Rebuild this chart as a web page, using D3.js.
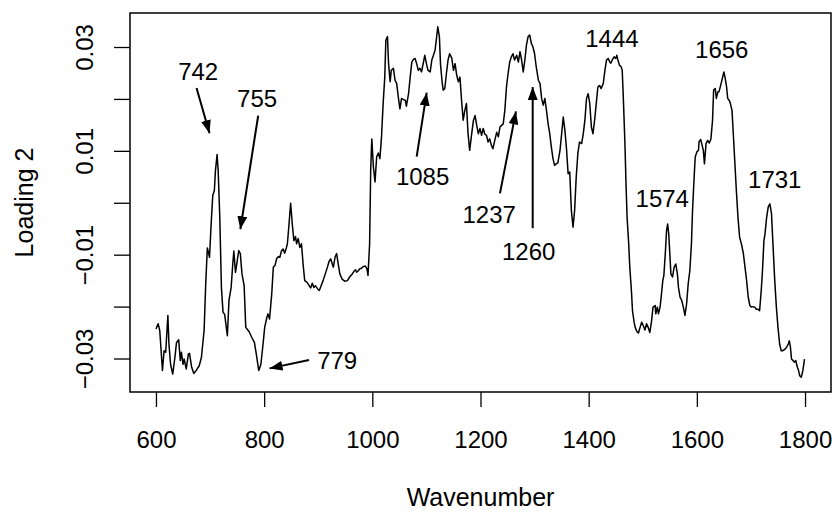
<!DOCTYPE html>
<html>
<head>
<meta charset="utf-8">
<script src="https://cdn.jsdelivr.net/npm/d3@7"></script>
<style>
  body { margin: 0; background: #fff; }
  svg text { font-family: "Liberation Sans", Arial, Helvetica, sans-serif; font-size: 24px; fill: #000; }
</style>
</head>
<body>
<div id="chart"></div>
<script>
// wavenumber (cm-1) and loading 2
const wavenumber = [600, 604, 607, 612, 615, 618, 622, 624, 627, 631, 635, 638, 642, 645, 647, 650, 652, 656, 660, 662, 666, 670, 675, 680, 684, 689, 692, 695, 699, 702, 705, 708, 710, 713, 715, 718, 721, 724, 727, 732, 735, 739, 742, 744, 747, 750, 753, 756, 759, 763, 766, 769, 772, 777, 782, 786, 790, 794, 798, 801, 805, 807, 810, 814, 817, 820, 823, 826, 829, 832, 835, 838, 841, 843, 846, 849, 852, 855, 858, 860, 863, 866, 869, 872, 875, 879, 883, 886, 889, 892, 895, 899, 902, 905, 909, 913, 917, 920, 923, 926, 928, 931, 934, 937, 940, 944, 949, 954, 958, 963, 966, 969, 971, 974, 977, 980, 983, 987, 990, 992, 995, 997, 999, 1002, 1005, 1008, 1011, 1014, 1017, 1020, 1023, 1025, 1028, 1030, 1033, 1035, 1039, 1042, 1045, 1048, 1051, 1054, 1057, 1061, 1063, 1067, 1070, 1073, 1076, 1079, 1082, 1085, 1088, 1091, 1094, 1097, 1100, 1103, 1107, 1110, 1113, 1116, 1119, 1121, 1124, 1126, 1129, 1131, 1134, 1137, 1140, 1143, 1147, 1150, 1153, 1156, 1159, 1162, 1165, 1168, 1171, 1174, 1177, 1180, 1183, 1187, 1190, 1193, 1196, 1199, 1202, 1205, 1208, 1211, 1214, 1217, 1220, 1223, 1227, 1230, 1233, 1236, 1239, 1242, 1245, 1248, 1251, 1254, 1257, 1260, 1263, 1267, 1270, 1273, 1276, 1279, 1282, 1285, 1288, 1291, 1294, 1297, 1300, 1303, 1307, 1310, 1313, 1316, 1319, 1322, 1325, 1328, 1331, 1334, 1337, 1340, 1343, 1347, 1350, 1353, 1356, 1359, 1362, 1365, 1368, 1371, 1374, 1377, 1380, 1383, 1387, 1390, 1393, 1396, 1399, 1402, 1405, 1408, 1411, 1414, 1417, 1420, 1423, 1427, 1430, 1433, 1436, 1439, 1441, 1444, 1447, 1450, 1452, 1454, 1457, 1460, 1462, 1464, 1467, 1469, 1471, 1474, 1476, 1479, 1481, 1484, 1486, 1489, 1492, 1495, 1498, 1501, 1504, 1507, 1510, 1513, 1516, 1519, 1523, 1524, 1527, 1529, 1532, 1534, 1537, 1539, 1542, 1544, 1546, 1548, 1550, 1552, 1555, 1558, 1561, 1564, 1566, 1569, 1572, 1575, 1578, 1581, 1584, 1587, 1590, 1592, 1595, 1597, 1600, 1603, 1604, 1607, 1609, 1612, 1614, 1617, 1620, 1623, 1626, 1629, 1631, 1634, 1636, 1639, 1641, 1644, 1647, 1650, 1652, 1655, 1657, 1660, 1662, 1665, 1667, 1670, 1673, 1676, 1679, 1683, 1686, 1689, 1692, 1695, 1698, 1701, 1704, 1707, 1710, 1713, 1716, 1719, 1721, 1724, 1726, 1729, 1732, 1735, 1738, 1741, 1744, 1747, 1750, 1753, 1756, 1759, 1763, 1766, 1769, 1771, 1773, 1775, 1778, 1780, 1783, 1785, 1788, 1790, 1793, 1796, 1799]
const loading2 = [-0.0243, -0.0233, -0.0246, -0.0323, -0.0285, -0.0288, -0.0217, -0.0272, -0.0311, -0.0330, -0.0298, -0.0269, -0.0264, -0.0304, -0.0288, -0.0311, -0.0301, -0.0320, -0.0291, -0.0290, -0.0317, -0.0329, -0.0322, -0.0314, -0.0298, -0.0246, -0.0156, -0.0087, -0.0105, -0.0041, 0.0014, 0.0024, 0.0062, 0.0093, 0.0062, -0.0028, -0.0163, -0.0211, -0.0215, -0.0256, -0.0188, -0.0163, -0.0118, -0.0093, -0.0134, -0.0114, -0.0092, -0.0098, -0.0137, -0.0159, -0.0240, -0.0244, -0.0248, -0.0259, -0.0269, -0.0295, -0.0323, -0.0311, -0.0272, -0.0240, -0.0221, -0.0214, -0.0224, -0.0176, -0.0124, -0.0121, -0.0108, -0.0104, -0.0105, -0.0093, -0.0089, -0.0097, -0.0087, -0.0079, -0.0041, -0.0001, -0.0041, -0.0073, -0.0065, -0.0079, -0.0069, -0.0086, -0.0079, -0.0118, -0.0150, -0.0153, -0.0159, -0.0164, -0.0155, -0.0163, -0.0160, -0.0166, -0.0169, -0.0161, -0.0150, -0.0137, -0.0124, -0.0113, -0.0108, -0.0118, -0.0124, -0.0105, -0.0098, -0.0118, -0.0137, -0.0147, -0.0151, -0.0150, -0.0143, -0.0137, -0.0132, -0.0129, -0.0134, -0.0131, -0.0127, -0.0126, -0.0123, -0.0122, -0.0127, -0.0140, -0.0079, 0.0062, 0.0123, 0.0069, 0.0040, 0.0088, 0.0096, 0.0085, 0.0127, 0.0191, 0.0242, 0.0313, 0.0320, 0.0268, 0.0233, 0.0255, 0.0259, 0.0236, 0.0230, 0.0204, 0.0181, 0.0201, 0.0199, 0.0197, 0.0186, 0.0210, 0.0242, 0.0271, 0.0276, 0.0278, 0.0268, 0.0255, 0.0259, 0.0252, 0.0268, 0.0284, 0.0268, 0.0255, 0.0252, 0.0275, 0.0284, 0.0294, 0.0320, 0.0339, 0.0320, 0.0268, 0.0233, 0.0217, 0.0220, 0.0249, 0.0275, 0.0287, 0.0278, 0.0255, 0.0268, 0.0246, 0.0233, 0.0242, 0.0197, 0.0159, 0.0178, 0.0191, 0.0133, 0.0101, 0.0127, 0.0159, 0.0168, 0.0149, 0.0133, 0.0143, 0.0130, 0.0143, 0.0132, 0.0130, 0.0117, 0.0123, 0.0111, 0.0104, 0.0123, 0.0136, 0.0127, 0.0146, 0.0149, 0.0152, 0.0178, 0.0223, 0.0249, 0.0271, 0.0281, 0.0287, 0.0275, 0.0284, 0.0271, 0.0291, 0.0275, 0.0252, 0.0275, 0.0304, 0.0320, 0.0323, 0.0307, 0.0300, 0.0287, 0.0262, 0.0236, 0.0230, 0.0201, 0.0188, 0.0201, 0.0178, 0.0152, 0.0133, 0.0107, 0.0085, 0.0072, 0.0075, 0.0077, 0.0101, 0.0133, 0.0165, 0.0140, 0.0104, 0.0056, 0.0059, -0.0015, -0.0047, -0.0015, 0.0050, 0.0095, 0.0117, 0.0114, 0.0133, 0.0159, 0.0201, 0.0210, 0.0191, 0.0146, 0.0133, 0.0159, 0.0191, 0.0223, 0.0226, 0.0220, 0.0230, 0.0255, 0.0275, 0.0278, 0.0271, 0.0269, 0.0276, 0.0281, 0.0278, 0.0284, 0.0275, 0.0265, 0.0262, 0.0255, 0.0204, 0.0114, 0.0037, -0.0028, -0.0079, -0.0124, -0.0169, -0.0208, -0.0230, -0.0240, -0.0248, -0.0251, -0.0240, -0.0230, -0.0237, -0.0245, -0.0233, -0.0240, -0.0250, -0.0230, -0.0201, -0.0198, -0.0214, -0.0201, -0.0214, -0.0201, -0.0182, -0.0150, -0.0140, -0.0092, -0.0053, -0.0041, -0.0060, -0.0098, -0.0137, -0.0143, -0.0124, -0.0118, -0.0137, -0.0163, -0.0182, -0.0188, -0.0201, -0.0217, -0.0195, -0.0156, -0.0131, -0.0079, -0.0015, 0.0050, 0.0088, 0.0098, 0.0101, 0.0117, 0.0122, 0.0114, 0.0101, 0.0075, 0.0114, 0.0120, 0.0115, 0.0123, 0.0159, 0.0217, 0.0220, 0.0201, 0.0214, 0.0214, 0.0226, 0.0239, 0.0252, 0.0242, 0.0223, 0.0201, 0.0197, 0.0191, 0.0178, 0.0140, 0.0082, 0.0024, -0.0028, -0.0066, -0.0082, -0.0098, -0.0124, -0.0150, -0.0182, -0.0198, -0.0201, -0.0200, -0.0201, -0.0205, -0.0205, -0.0208, -0.0169, -0.0137, -0.0073, -0.0060, -0.0028, -0.0008, -0.0002, -0.0021, -0.0086, -0.0150, -0.0201, -0.0240, -0.0272, -0.0285, -0.0285, -0.0282, -0.0278, -0.0272, -0.0266, -0.0278, -0.0301, -0.0304, -0.0307, -0.0304, -0.0314, -0.0323, -0.0333, -0.0336, -0.0323, -0.0301]

const xTicks = [600, 800, 1000, 1200, 1400, 1600, 1800]
const yTicks = [-0.03, -0.02, -0.01, 0, 0.01, 0.02, 0.03]
const yLabelled = [-0.03, -0.01, 0.01, 0.03]

// peak labels: text anchor (wavenumber, loading) and optional arrow from -> to
const peakLabels = ['742', '755', '779', '1085', '1237', '1260', '1444', '1656', '1574', '1731']
const labelX = [678, 787, 935, 1093, 1216, 1289, 1443, 1646, 1536, 1744]
const labelY = [0.0237, 0.0185, -0.0321, 0.0034, -0.0039, -0.0110, 0.0300, 0.0279, -0.0008, 0.0029]
const arrowFrom = [[675, 0.0221], [789, 0.0168], [883, -0.0303], [1082, 0.0089], [1236, 0.0018], [1296.5, -0.0049], null, null, null, null]
const arrowTo = [[699, 0.0134], [756, -0.0051], [810, -0.0319], [1100.5, 0.0212], [1265.5, 0.0176], [1296.5, 0.0223], null, null, null, null]

const width = 837
const height = 512
const mLeft = 130
const mRight = 831
const mTop = 13
const mBottom = 392

const svg = d3.select('#chart').append('svg')
  .attr('width', width)
  .attr('height', height)

const x = d3.scaleLinear().domain([552, 1848]).range([mLeft, mRight])
const y = d3.scaleLinear().domain([-0.03645, 0.03655]).range([mBottom, mTop])

// arrow head
svg.append('defs').append('marker')
  .attr('id', 'head')
  .attr('markerUnits', 'userSpaceOnUse')
  .attr('viewBox', '0 0 13 10')
  .attr('refX', 13)
  .attr('refY', 5)
  .attr('markerWidth', 13)
  .attr('markerHeight', 10)
  .attr('orient', 'auto')
  .append('path')
  .attr('d', 'M0,0L13,5L0,10Z')
  .attr('fill', '#000')

// x axis
const gx = svg.append('g')
  .attr('transform', `translate(0,${mBottom})`)
  .call(d3.axisBottom(x).tickValues(xTicks).tickSize(15).tickFormat(d3.format('d')))
gx.select('.domain').remove()
gx.selectAll('.tick line').attr('stroke', '#000').attr('stroke-width', 1.3)
gx.selectAll('.tick text').attr('dy', null).attr('y', 56).style('font-size', '24px')

// y axis
const gy = svg.append('g')
  .attr('transform', `translate(${mLeft},0)`)
  .call(d3.axisLeft(y).tickValues(yTicks).tickSize(16)
    .tickFormat(d => yLabelled.some(v => Math.abs(v - d) < 1e-9) ? d3.format('.2f')(d) : ''))
gy.select('.domain').remove()
gy.selectAll('.tick line').attr('stroke', '#000').attr('stroke-width', 1.3)
gy.selectAll('.tick text')
  .attr('x', 0)
  .attr('y', -37)
  .attr('dy', null)
  .attr('transform', 'rotate(-90)')
  .attr('text-anchor', 'middle')
  .style('font-size', '24px')

// plot box
svg.append('rect')
  .attr('x', mLeft)
  .attr('y', mTop)
  .attr('width', mRight - mLeft)
  .attr('height', mBottom - mTop)
  .attr('fill', 'none')
  .attr('stroke', '#000')
  .attr('stroke-width', 1.5)

// spectrum
const pts = wavenumber.map((w, i) => [w, loading2[i]])
svg.append('path')
  .datum(pts)
  .attr('fill', 'none')
  .attr('stroke', '#000')
  .attr('stroke-width', 1.5)
  .attr('stroke-linejoin', 'round')
  .attr('d', d3.line().defined(d => d[1] != null).x(d => x(d[0])).y(d => y(d[1])))

// labels and arrows
peakLabels.forEach((t, i) => {
  svg.append('text')
    .attr('x', x(labelX[i]))
    .attr('y', y(labelY[i]))
    .attr('text-anchor', 'middle')
    .text(t)
  if (arrowFrom[i]) {
    svg.append('line')
      .attr('x1', x(arrowFrom[i][0]))
      .attr('y1', y(arrowFrom[i][1]))
      .attr('x2', x(arrowTo[i][0]))
      .attr('y2', y(arrowTo[i][1]))
      .attr('stroke', '#000')
      .attr('stroke-width', 2)
      .attr('marker-end', 'url(#head)')
  }
})

// axis titles
svg.append('text')
  .attr('x', (mLeft + mRight) / 2)
  .attr('y', 506)
  .attr('text-anchor', 'middle')
  .style('font-size', '25px')
  .text('Wavenumber')
svg.append('text')
  .attr('transform', `translate(33,${(mTop + mBottom) / 2}) rotate(-90)`)
  .attr('text-anchor', 'middle')
  .style('font-size', '25px')
  .text('Loading 2')
</script>
</body>
</html>
